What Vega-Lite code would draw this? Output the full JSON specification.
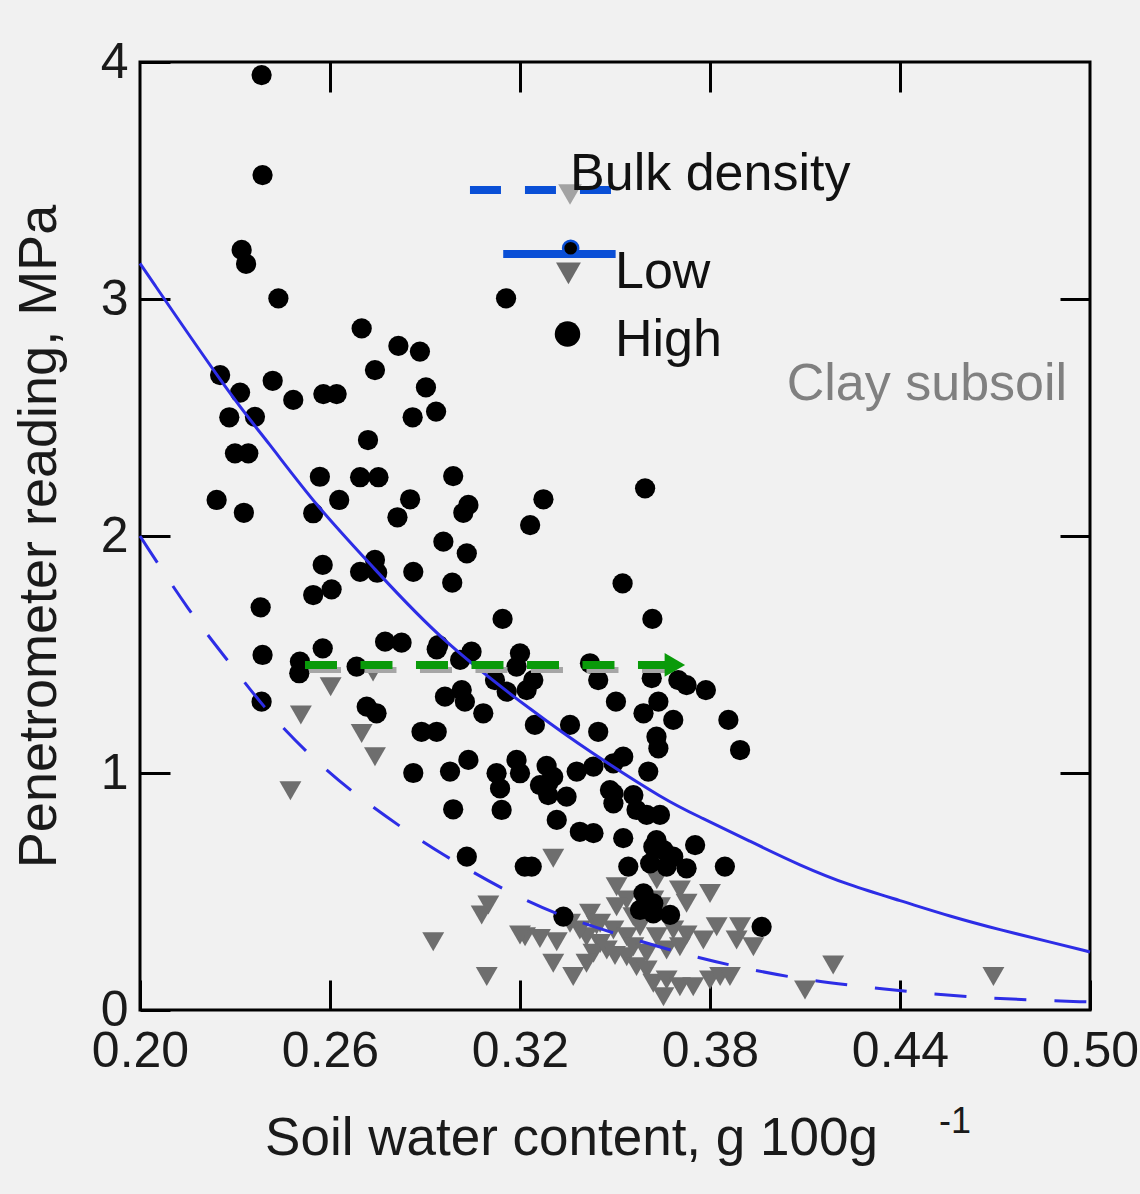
{
  "$schema": "https://vega.github.io/schema/vega-lite/v6.json",
  "width": 950,
  "height": 948,
  "autosize": {"type": "none"},
  "padding": {"left": 140, "top": 62, "right": 50, "bottom": 184},
  "background": "#f1f1f1",
  "config": {
    "view": {"stroke": "#000000", "strokeWidth": 3, "fill": "#f1f1f1"},
    "font": "Liberation Sans",
    "axis": {
      "grid": false, "domain": false, "tickColor": "#000000", "tickWidth": 3, "tickSize": -30,
      "labelFont": "Liberation Sans", "titleFont": "Liberation Sans",
      "labelColor": "#1a1a1a", "titleColor": "#1a1a1a", "titleFontWeight": "normal",
      "labelFlush": false, "labelOverlap": false, "labelBound": false
    }
  },
  "datasets": {
    "high": [
      {"x":0.2384,"y":3.945},{"x":0.2387,"y":3.523},{"x":0.2321,"y":3.207},{"x":0.2335,"y":3.148},{"x":0.2437,"y":3.003},
      {"x":0.3156,"y":3.003},{"x":0.2700,"y":2.876},{"x":0.2816,"y":2.802},{"x":0.2884,"y":2.778},{"x":0.2742,"y":2.700},
      {"x":0.2903,"y":2.627},{"x":0.2935,"y":2.525},{"x":0.2861,"y":2.501},{"x":0.2253,"y":2.679},{"x":0.2316,"y":2.605},
      {"x":0.2419,"y":2.655},{"x":0.2484,"y":2.574},{"x":0.2579,"y":2.599},{"x":0.2621,"y":2.599},{"x":0.2282,"y":2.501},
      {"x":0.2363,"y":2.503},{"x":0.2720,"y":2.405},{"x":0.2300,"y":2.349},{"x":0.2342,"y":2.349},{"x":0.2568,"y":2.250},
      {"x":0.2695,"y":2.248},{"x":0.2753,"y":2.248},{"x":0.2989,"y":2.253},{"x":0.2242,"y":2.152},{"x":0.2328,"y":2.098},
      {"x":0.2547,"y":2.096},{"x":0.2629,"y":2.152},{"x":0.2853,"y":2.155},{"x":0.2813,"y":2.079},{"x":0.3037,"y":2.131},
      {"x":0.3021,"y":2.098},{"x":0.3232,"y":2.046},{"x":0.3274,"y":2.155},{"x":0.3595,"y":2.201},{"x":0.2958,"y":1.976},
      {"x":0.3032,"y":1.927},{"x":0.2577,"y":1.878},{"x":0.2742,"y":1.899},{"x":0.2695,"y":1.849},{"x":0.2749,"y":1.845},
      {"x":0.2863,"y":1.849},{"x":0.2986,"y":1.803},{"x":0.2547,"y":1.751},{"x":0.2605,"y":1.775},{"x":0.2381,"y":1.699},
      {"x":0.3145,"y":1.650},{"x":0.3524,"y":1.800},{"x":0.3618,"y":1.650},{"x":0.2577,"y":1.526},{"x":0.2774,"y":1.554},
      {"x":0.2826,"y":1.550},{"x":0.2942,"y":1.540},{"x":0.2937,"y":1.522},{"x":0.3200,"y":1.505},{"x":0.2387,"y":1.498},
      {"x":0.2505,"y":1.470},{"x":0.2503,"y":1.421},{"x":0.2684,"y":1.449},{"x":0.3011,"y":1.477},{"x":0.3047,"y":1.512},
      {"x":0.3189,"y":1.449},{"x":0.3242,"y":1.392},{"x":0.3221,"y":1.350},{"x":0.3158,"y":1.343},{"x":0.3121,"y":1.392},
      {"x":0.3421,"y":1.463},{"x":0.3447,"y":1.392},{"x":0.3616,"y":1.400},{"x":0.3700,"y":1.392},{"x":0.3726,"y":1.371},
      {"x":0.3787,"y":1.350},{"x":0.2963,"y":1.322},{"x":0.3016,"y":1.350},{"x":0.3026,"y":1.301},{"x":0.3084,"y":1.252},
      {"x":0.3503,"y":1.301},{"x":0.3637,"y":1.301},{"x":0.3590,"y":1.252},{"x":0.3684,"y":1.224},{"x":0.3858,"y":1.224},
      {"x":0.3247,"y":1.203},{"x":0.3358,"y":1.203},{"x":0.3447,"y":1.174},{"x":0.3631,"y":1.153},{"x":0.3637,"y":1.104},
      {"x":0.3895,"y":1.097},{"x":0.2716,"y":1.280},{"x":0.2747,"y":1.252},{"x":0.2384,"y":1.301},{"x":0.2889,"y":1.174},
      {"x":0.2937,"y":1.174},{"x":0.2863,"y":1.000},{"x":0.2979,"y":1.006},{"x":0.3037,"y":1.055},{"x":0.3126,"y":0.999},
      {"x":0.3137,"y":0.935},{"x":0.3189,"y":1.055},{"x":0.3200,"y":0.999},{"x":0.3284,"y":1.030},{"x":0.3289,"y":0.957},
      {"x":0.3379,"y":1.006},{"x":0.3432,"y":1.027},{"x":0.3495,"y":1.041},{"x":0.3526,"y":1.069},{"x":0.3605,"y":1.006},
      {"x":0.3484,"y":0.928},{"x":0.3558,"y":0.907},{"x":0.2989,"y":0.847},{"x":0.3142,"y":0.844},{"x":0.3305,"y":0.984},
      {"x":0.3263,"y":0.949},{"x":0.3289,"y":0.907},{"x":0.3347,"y":0.900},{"x":0.3316,"y":0.802},{"x":0.3389,"y":0.752},
      {"x":0.3432,"y":0.746},{"x":0.3495,"y":0.914},{"x":0.3495,"y":0.872},{"x":0.3568,"y":0.844},{"x":0.3600,"y":0.823},
      {"x":0.3642,"y":0.823},{"x":0.3526,"y":0.725},{"x":0.3032,"y":0.647},{"x":0.3215,"y":0.605},{"x":0.3237,"y":0.605},
      {"x":0.3542,"y":0.605},{"x":0.3621,"y":0.689},{"x":0.3653,"y":0.675},{"x":0.3684,"y":0.647},{"x":0.3611,"y":0.619},
      {"x":0.3663,"y":0.605},{"x":0.3726,"y":0.598},{"x":0.3631,"y":0.717},{"x":0.3753,"y":0.696},{"x":0.3847,"y":0.605},
      {"x":0.3590,"y":0.492},{"x":0.3621,"y":0.450},{"x":0.3579,"y":0.422},{"x":0.3621,"y":0.408},{"x":0.3674,"y":0.401},
      {"x":0.3337,"y":0.394},{"x":0.3963,"y":0.351}
    ],
    "low": [
      {"x":0.2602,"y":1.364},{"x":0.2508,"y":1.245},{"x":0.2700,"y":1.167},{"x":0.2742,"y":1.069},{"x":0.2475,"y":0.925},
      {"x":0.2736,"y":1.426},{"x":0.3305,"y":0.640},{"x":0.3100,"y":0.443},{"x":0.3079,"y":0.401},{"x":0.2926,"y":0.288},
      {"x":0.3095,"y":0.141},{"x":0.3216,"y":0.309},{"x":0.3263,"y":0.302},{"x":0.3316,"y":0.288},{"x":0.3421,"y":0.408},
      {"x":0.3442,"y":0.359},{"x":0.3410,"y":0.309},{"x":0.3453,"y":0.281},{"x":0.3432,"y":0.239},{"x":0.3474,"y":0.253},
      {"x":0.3305,"y":0.197},{"x":0.3368,"y":0.141},{"x":0.3410,"y":0.197},{"x":0.3505,"y":0.520},{"x":0.3537,"y":0.464},
      {"x":0.3505,"y":0.436},{"x":0.3558,"y":0.394},{"x":0.3495,"y":0.338},{"x":0.3537,"y":0.309},{"x":0.3579,"y":0.351},
      {"x":0.3632,"y":0.549},{"x":0.3621,"y":0.464},{"x":0.3642,"y":0.436},{"x":0.3705,"y":0.506},{"x":0.3726,"y":0.450},
      {"x":0.3800,"y":0.492},{"x":0.3684,"y":0.338},{"x":0.3726,"y":0.316},{"x":0.3779,"y":0.295},{"x":0.3821,"y":0.351},
      {"x":0.3895,"y":0.351},{"x":0.3884,"y":0.295},{"x":0.3937,"y":0.267},{"x":0.3500,"y":0.230},{"x":0.3537,"y":0.225},
      {"x":0.3568,"y":0.183},{"x":0.3600,"y":0.169},{"x":0.3621,"y":0.113},{"x":0.3663,"y":0.127},{"x":0.3653,"y":0.056},
      {"x":0.3705,"y":0.098},{"x":0.3747,"y":0.098},{"x":0.3800,"y":0.127},{"x":0.3832,"y":0.141},{"x":0.3863,"y":0.141},
      {"x":0.3558,"y":0.267},{"x":0.3600,"y":0.239},{"x":0.3632,"y":0.309},{"x":0.3663,"y":0.253},{"x":0.3705,"y":0.267},
      {"x":0.3358,"y":0.366},{"x":0.3389,"y":0.338},{"x":0.3453,"y":0.366},{"x":0.3200,"y":0.316},{"x":0.4189,"y":0.190},
      {"x":0.4100,"y":0.084},{"x":0.4695,"y":0.141}
    ],
    "curveHigh": [
      {"x":0.2000,"y":3.15},{"x":0.2295,"y":2.574},{"x":0.2400,"y":2.405},{"x":0.2558,"y":2.124},{"x":0.2736,"y":1.869},
      {"x":0.2947,"y":1.561},{"x":0.3263,"y":1.237},{"x":0.3412,"y":1.097},{"x":0.3664,"y":0.880},{"x":0.3768,"y":0.815},
      {"x":0.3926,"y":0.712},{"x":0.4084,"y":0.610},{"x":0.4242,"y":0.525},{"x":0.4400,"y":0.462},{"x":0.4558,"y":0.395},
      {"x":0.4716,"y":0.338},{"x":0.4874,"y":0.287},{"x":0.5000,"y":0.245}
    ],
    "curveLow": [
      {"x":0.2000,"y":2.000},{"x":0.2158,"y":1.675},{"x":0.2284,"y":1.464},{"x":0.2388,"y":1.280},{"x":0.2527,"y":1.084},
      {"x":0.2673,"y":0.915},{"x":0.2831,"y":0.765},{"x":0.2947,"y":0.662},{"x":0.3159,"y":0.498},{"x":0.3336,"y":0.392},
      {"x":0.3516,"y":0.316},{"x":0.3705,"y":0.240},{"x":0.3873,"y":0.185},{"x":0.4084,"y":0.130},{"x":0.4264,"y":0.102},
      {"x":0.4432,"y":0.076},{"x":0.4612,"y":0.056},{"x":0.4801,"y":0.042},{"x":0.5000,"y":0.034}
    ]
  },
  "layer": [
    {
      "data": {"name": "low"},
      "mark": {"type": "point", "shape": "triangle-down", "filled": true, "color": "#6e6e6e", "size": 480, "opacity": 1, "strokeWidth": 0},
      "encoding": {
        "x": {"field": "x", "type": "quantitative", "scale": {"domain": [0.2, 0.5], "nice": false, "zero": false},
              "axis": {"orient": "bottom", "values": [0.2, 0.26, 0.32, 0.38, 0.44, 0.5], "format": ".2f", "labelFontSize": 50, "labelPadding": 46,
                       "title": "Soil water content, g 100g", "titleFontSize": 53, "titleX": 431, "titlePadding": 36}},
        "y": {"field": "y", "type": "quantitative", "scale": {"domain": [0, 4], "nice": false, "zero": false},
              "axis": {"orient": "left", "values": [0, 1, 2, 3, 4], "format": "d", "labelFontSize": 50, "labelPadding": 42,
                       "title": "Penetrometer reading, MPa", "titleFontSize": 54, "titlePadding": 34}}
      }
    },
    {
      "data": {"name": "high"},
      "mark": {"type": "point", "shape": "circle", "filled": true, "color": "#000000", "size": 410, "opacity": 1, "strokeWidth": 0},
      "encoding": {
        "x": {"field": "x", "type": "quantitative", "scale": {"domain": [0.2, 0.5], "nice": false, "zero": false}, "axis": null},
        "y": {"field": "y", "type": "quantitative", "scale": {"domain": [0, 4], "nice": false, "zero": false}, "axis": null}
      }
    },
    {
      "data": {"name": "curveHigh"},
      "mark": {"type": "line", "color": "#2d2de6", "strokeWidth": 3, "interpolate": "basis"},
      "encoding": {
        "x": {"field": "x", "type": "quantitative", "scale": {"domain": [0.2, 0.5], "nice": false, "zero": false}, "axis": null},
        "y": {"field": "y", "type": "quantitative", "scale": {"domain": [0, 4], "nice": false, "zero": false}, "axis": null}
      }
    },
    {
      "data": {"name": "curveLow"},
      "mark": {"type": "line", "color": "#2d2de6", "strokeWidth": 3, "interpolate": "basis", "strokeDash": [32, 28]},
      "encoding": {
        "x": {"field": "x", "type": "quantitative", "scale": {"domain": [0.2, 0.5], "nice": false, "zero": false}, "axis": null},
        "y": {"field": "y", "type": "quantitative", "scale": {"domain": [0, 4], "nice": false, "zero": false}, "axis": null}
      }
    },
    {
      "data": {"values": [{"x": 0.2521, "x2": 0.3658, "y": 1.456}]},
      "mark": {"type": "rule", "color": "#a6a6a6", "strokeWidth": 6, "strokeDash": [32, 23.5], "xOffset": 4, "yOffset": 5},
      "encoding": {
        "x": {"field": "x", "type": "quantitative", "scale": {"domain": [0.2, 0.5], "nice": false, "zero": false}, "axis": null},
        "x2": {"field": "x2"},
        "y": {"field": "y", "type": "quantitative", "scale": {"domain": [0, 4], "nice": false, "zero": false}, "axis": null}
      }
    },
    {
      "data": {"values": [{"x": 0.2521, "x2": 0.3658, "y": 1.456}]},
      "mark": {"type": "rule", "color": "#0a9a0a", "strokeWidth": 8, "strokeDash": [32, 23.5]},
      "encoding": {
        "x": {"field": "x", "type": "quantitative", "scale": {"domain": [0.2, 0.5], "nice": false, "zero": false}, "axis": null},
        "x2": {"field": "x2"},
        "y": {"field": "y", "type": "quantitative", "scale": {"domain": [0, 4], "nice": false, "zero": false}, "axis": null}
      }
    },
    {
      "data": {"values": [{"x": 0.3689, "y": 1.456}]},
      "mark": {"type": "point", "shape": "triangle-right", "filled": true, "color": "#0a9a0a", "size": 560, "opacity": 1, "strokeWidth": 0},
      "encoding": {
        "x": {"field": "x", "type": "quantitative", "scale": {"domain": [0.2, 0.5], "nice": false, "zero": false},
              "axis": {"orient": "top", "values": [0.26, 0.32, 0.38, 0.44], "labels": false, "title": null}},
        "y": {"field": "y", "type": "quantitative", "scale": {"domain": [0, 4], "nice": false, "zero": false},
              "axis": {"orient": "right", "values": [1, 2, 3], "labels": false, "title": null}}
      }
    },
    {
      "data": {"values": [{"x": 0.3042, "x2": 0.3490, "y": 3.46}]},
      "mark": {"type": "rule", "color": "#0a4fd6", "strokeWidth": 8, "strokeDash": [31, 24]},
      "encoding": {
        "x": {"field": "x", "type": "quantitative", "scale": {"domain": [0.2, 0.5], "nice": false, "zero": false}, "axis": null},
        "x2": {"field": "x2"},
        "y": {"field": "y", "type": "quantitative", "scale": {"domain": [0, 4], "nice": false, "zero": false}, "axis": null}
      }
    },
    {
      "data": {"values": [{"x": 0.3147, "x2": 0.3502, "y": 3.19}]},
      "mark": {"type": "rule", "color": "#0a4fd6", "strokeWidth": 8},
      "encoding": {
        "x": {"field": "x", "type": "quantitative", "scale": {"domain": [0.2, 0.5], "nice": false, "zero": false}, "axis": null},
        "x2": {"field": "x2"},
        "y": {"field": "y", "type": "quantitative", "scale": {"domain": [0, 4], "nice": false, "zero": false}, "axis": null}
      }
    },
    {
      "data": {"values": [{"x": 0.3358, "y": 3.441}]},
      "mark": {"type": "point", "shape": "triangle-down", "filled": true, "color": "#a3a3a3", "size": 560, "opacity": 1, "strokeWidth": 0},
      "encoding": {
        "x": {"field": "x", "type": "quantitative", "scale": {"domain": [0.2, 0.5], "nice": false, "zero": false}, "axis": null},
        "y": {"field": "y", "type": "quantitative", "scale": {"domain": [0, 4], "nice": false, "zero": false}, "axis": null}
      }
    },
    {
      "data": {"values": [{"x": 0.3360, "y": 3.214}]},
      "mark": {"type": "point", "shape": "circle", "filled": true, "fill": "#000000", "stroke": "#0a4fd6", "strokeWidth": 2.5, "size": 230, "opacity": 1},
      "encoding": {
        "x": {"field": "x", "type": "quantitative", "scale": {"domain": [0.2, 0.5], "nice": false, "zero": false}, "axis": null},
        "y": {"field": "y", "type": "quantitative", "scale": {"domain": [0, 4], "nice": false, "zero": false}, "axis": null}
      }
    },
    {
      "data": {"values": [{"x": 0.3353, "y": 3.108}]},
      "mark": {"type": "point", "shape": "triangle-down", "filled": true, "color": "#6a6a6a", "size": 620, "opacity": 1, "strokeWidth": 0},
      "encoding": {
        "x": {"field": "x", "type": "quantitative", "scale": {"domain": [0.2, 0.5], "nice": false, "zero": false}, "axis": null},
        "y": {"field": "y", "type": "quantitative", "scale": {"domain": [0, 4], "nice": false, "zero": false}, "axis": null}
      }
    },
    {
      "data": {"values": [{"x": 0.3350, "y": 2.852}]},
      "mark": {"type": "point", "shape": "circle", "filled": true, "color": "#000000", "size": 650, "opacity": 1, "strokeWidth": 0},
      "encoding": {
        "x": {"field": "x", "type": "quantitative", "scale": {"domain": [0.2, 0.5], "nice": false, "zero": false}, "axis": null},
        "y": {"field": "y", "type": "quantitative", "scale": {"domain": [0, 4], "nice": false, "zero": false}, "axis": null}
      }
    },
    {
      "data": {"values": [
        {"x": 0.3358, "y": 3.46, "label": "Bulk density"},
        {"x": 0.3500, "y": 3.046, "label": "Low"},
        {"x": 0.3500, "y": 2.759, "label": "High"}
      ]},
      "mark": {"type": "text", "align": "left", "baseline": "alphabetic", "fontSize": 52, "color": "#111111", "font": "Liberation Sans"},
      "encoding": {
        "x": {"field": "x", "type": "quantitative", "scale": {"domain": [0.2, 0.5], "nice": false, "zero": false}, "axis": null},
        "y": {"field": "y", "type": "quantitative", "scale": {"domain": [0, 4], "nice": false, "zero": false}, "axis": null},
        "text": {"field": "label"}
      }
    },
    {
      "data": {"values": [{"x": 0.4485, "y": 2.574, "label": "Clay subsoil"}]},
      "mark": {"type": "text", "align": "center", "baseline": "alphabetic", "fontSize": 52, "color": "#808080", "font": "Liberation Sans"},
      "encoding": {
        "x": {"field": "x", "type": "quantitative", "scale": {"domain": [0.2, 0.5], "nice": false, "zero": false}, "axis": null},
        "y": {"field": "y", "type": "quantitative", "scale": {"domain": [0, 4], "nice": false, "zero": false}, "axis": null},
        "text": {"field": "label"}
      }
    },
    {
      "data": {"values": [{"x": 0.4574, "y": -0.519, "label": "-1"}]},
      "mark": {"type": "text", "align": "center", "baseline": "alphabetic", "fontSize": 36, "color": "#1a1a1a", "font": "Liberation Sans"},
      "encoding": {
        "x": {"field": "x", "type": "quantitative", "scale": {"domain": [0.2, 0.5], "nice": false, "zero": false}, "axis": null},
        "y": {"field": "y", "type": "quantitative", "scale": {"domain": [0, 4], "nice": false, "zero": false}, "axis": null},
        "text": {"field": "label"}
      }
    }
  ],
  "resolve": {"axis": {"x": "independent", "y": "independent"}}
}
